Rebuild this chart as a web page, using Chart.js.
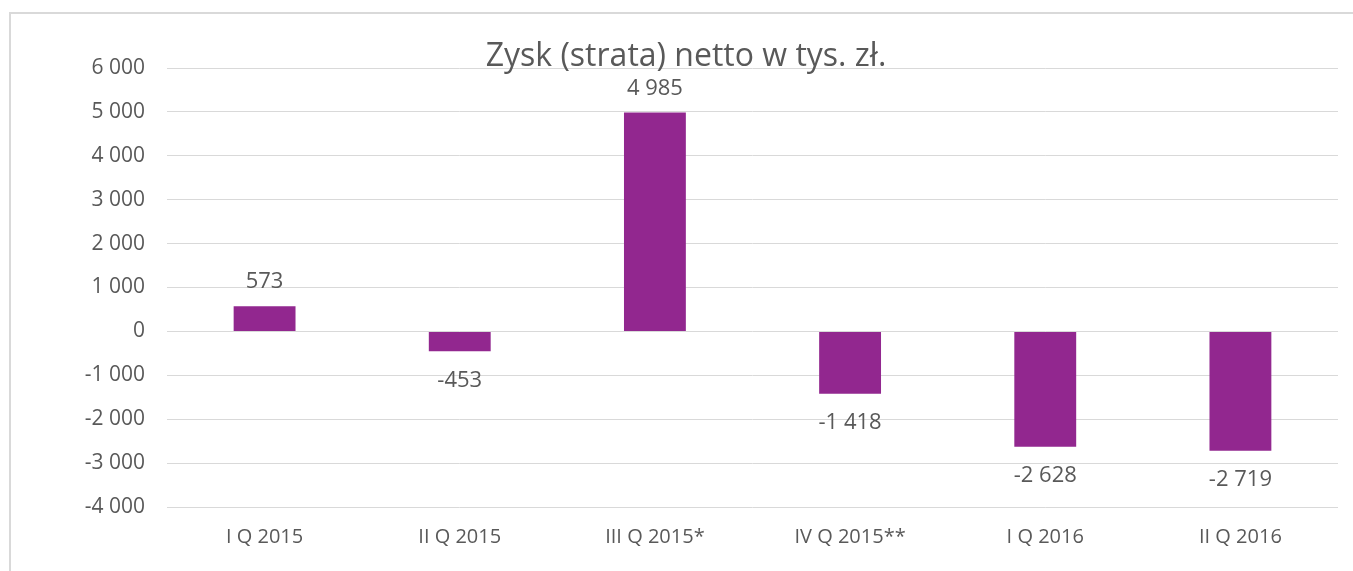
<!DOCTYPE html>
<html>
<head>
<meta charset="utf-8">
<script src="https://cdn.jsdelivr.net/npm/chart.js@4/dist/chart.umd.min.js"></script>
<style>
  html, body { margin: 0; padding: 0; background: #fff; overflow: hidden; }
  #wrap { position: absolute; left: 0; top: 0; width: 1353px; height: 571px; }
</style>
</head>
<body>
<div id="wrap"><canvas id="chart" width="1353" height="571"></canvas></div>
<script>
const categories = ['I Q 2015', 'II Q 2015', 'III Q 2015*', 'IV Q 2015**', 'I Q 2016', 'II Q 2016']
const profitValues = [573, -453, 4985, -1418, -2628, -2719]
const yTicks = [-4000, -3000, -2000, -1000, 0, 1000, 2000, 3000, 4000, 5000, 6000]
const chartTitle = 'Zysk (strata) netto w tys. zł.'

const FONT = '"Open Sans", sans-serif'
const TEXT = '#595959'

function fmt(v) {
  const s = String(Math.abs(v)).replace(/\B(?=(\d{3})+(?!\d))/g, ' ')
  return (v < 0 ? '-' : '') + s
}

// frame + title drawn on top of the plot, like the original
const decor = {
  id: 'decor',
  beforeDraw(chart) {
    const ctx = chart.ctx
    ctx.save()
    ctx.strokeStyle = '#d9d9d9'
    ctx.lineWidth = 2
    ctx.strokeRect(10, 13, 1360, 570)
    ctx.restore()
  },
  afterDraw(chart) {
    const ctx = chart.ctx
    ctx.save()
    ctx.font = '32px ' + FONT
    ctx.fillStyle = TEXT
    ctx.textAlign = 'center'
    ctx.textBaseline = 'alphabetic'
    ctx.fillText(chartTitle, 686, 66)
    ctx.restore()
  }
}

const valueLabels = {
  id: 'valueLabels',
  afterDatasetsDraw(chart) {
    const ctx = chart.ctx
    const meta = chart.getDatasetMeta(0)
    ctx.save()
    ctx.font = '22px ' + FONT
    ctx.fillStyle = TEXT
    ctx.textAlign = 'center'
    meta.data.forEach((bar, i) => {
      const v = profitValues[i]
      if (v >= 0) {
        ctx.textBaseline = 'alphabetic'
        ctx.fillText(fmt(v), bar.x, bar.y - 18)
      } else {
        ctx.textBaseline = 'top'
        ctx.fillText(fmt(v), bar.x, bar.y + 18)
      }
    })
    ctx.restore()
  }
}

new Chart(document.getElementById('chart'), {
  type: 'bar',
  data: {
    labels: categories,
    datasets: [{
      data: profitValues,
      backgroundColor: '#92278F',
      borderWidth: 0,
      categoryPercentage: 1,
      barPercentage: 0.317
    }]
  },
  options: {
    responsive: false,
    animation: false,
    layout: { padding: { left: 0, right: 15, top: 68, bottom: 0 } },
    plugins: {
      legend: { display: false },
      tooltip: { enabled: false }
    },
    scales: {
      x: {
        grid: { display: false, drawTicks: false },
        border: { display: false },
        ticks: { color: TEXT, font: { family: FONT, size: 20 }, padding: 18, maxRotation: 0 },
        afterFit(scale) { scale.height = 64 }
      },
      y: {
        min: -4000,
        max: 6000,
        afterBuildTicks(scale) { scale.ticks = yTicks.map(v => ({ value: v })) },
        grid: { color: '#d9d9d9', lineWidth: 1, drawTicks: false },
        border: { display: false },
        ticks: {
          color: TEXT,
          font: { family: FONT, size: 21 },
          padding: 22,
          callback: v => fmt(v)
        },
        afterFit(scale) { scale.width = 167 }
      }
    }
  },
  plugins: [decor, valueLabels]
})
</script>
</body>
</html>
